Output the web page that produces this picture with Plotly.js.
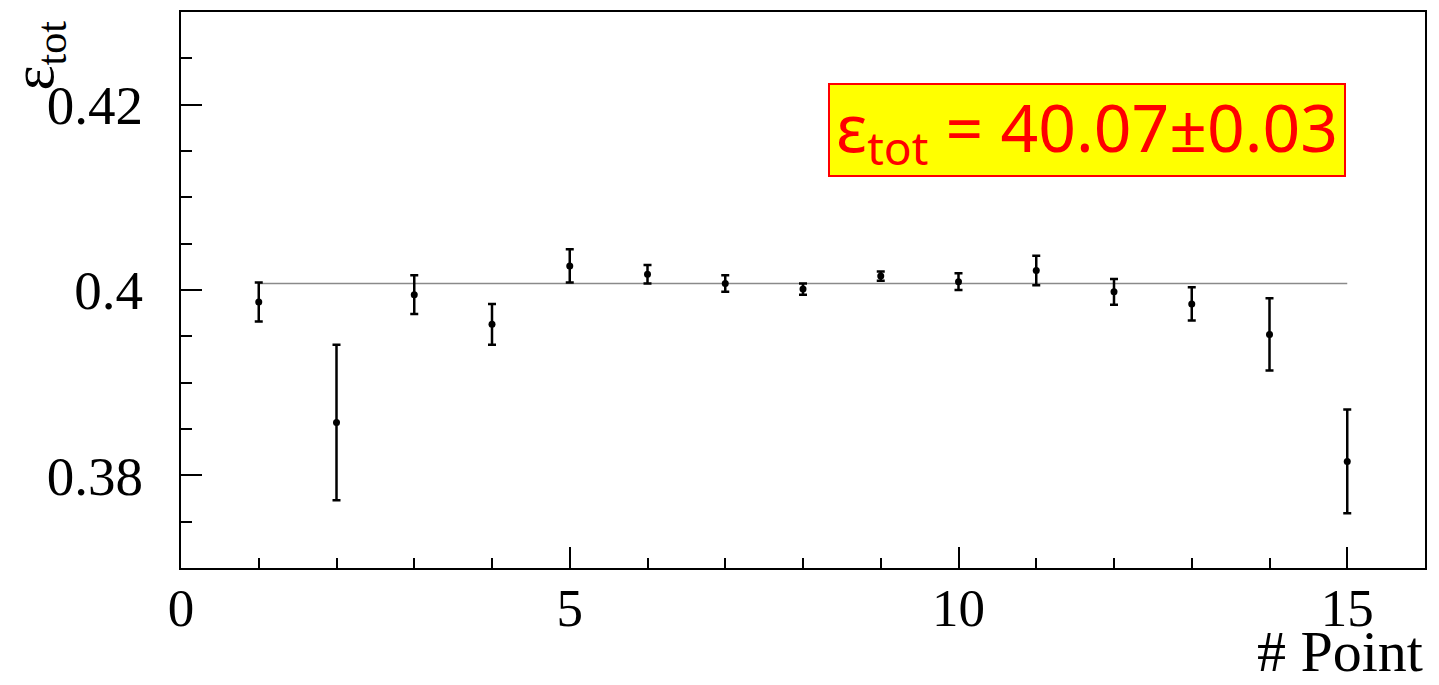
<!DOCTYPE html>
<html>
<head>
<meta charset="utf-8">
<script src="https://cdn.plot.ly/plotly-3.0.1.min.js"></script>
<style>
  html, body { margin: 0; padding: 0; background: #ffffff; }
  #chart { width: 1439px; height: 685px; }
</style>
</head>
<body>
<div id="chart"></div>
<script>
// Total efficiency per measurement point, with statistical errors
const points = [1, 2, 3, 4, 5, 6, 7, 8, 9, 10, 11, 12, 13, 14, 15];
const effTot = [0.3987, 0.3857, 0.3995, 0.3963, 0.4026, 0.4017, 0.4007, 0.4001,
                0.4015, 0.4009, 0.4021, 0.3998, 0.3985, 0.3952, 0.3815];
const effErr = [0.0021, 0.0084, 0.0021, 0.0022, 0.0018, 0.0010, 0.0009, 0.0006,
                0.0005, 0.0009, 0.0016, 0.0014, 0.0018, 0.0039, 0.0056];

// Constant fit over all points: 40.07 ± 0.03 %
const fitValue = 40.07;
const fitError = 0.03;
const fitRange = [points[0], points[points.length - 1]];

const serif = 'Liberation Serif, Times New Roman, serif';

const traces = [
  {
    x: fitRange,
    y: fitRange.map(() => fitValue / 100),
    mode: 'lines',
    line: { color: '#8a8a8a', width: 1.5 },
    hoverinfo: 'skip',
    showlegend: false
  },
  {
    x: points,
    y: effTot,
    mode: 'markers',
    marker: { color: '#000000', size: 7 },
    error_y: { type: 'data', array: effErr, visible: true, color: '#000000', thickness: 2.5, width: 4 },
    showlegend: false
  }
];

const axisCommon = {
  showgrid: false,
  zeroline: false,
  showline: true,
  linecolor: '#000000',
  linewidth: 2,
  mirror: true,
  ticks: 'inside',
  ticklen: 21,
  tickwidth: 2,
  tickcolor: '#000000'
};

const layout = {
  width: 1439,
  height: 685,
  margin: { l: 181, r: 14, t: 12, b: 117 },
  paper_bgcolor: '#ffffff',
  plot_bgcolor: '#ffffff',
  xaxis: Object.assign({}, axisCommon, {
    range: [0, 16],
    tickvals: [0, 5, 10, 15],
    ticktext: ['0', '5', '10', '15'],
    ticklabelstandoff: -8,
    tickfont: { family: serif, size: 53, color: '#000000' },
    minor: { dtick: 1, tick0: 0, ticks: 'inside', ticklen: 10, tickwidth: 2, tickcolor: '#000000' }
  }),
  yaxis: Object.assign({}, axisCommon, {
    range: [0.37, 0.43],
    tickvals: [0.38, 0.40, 0.42],
    ticktext: ['0.38', '0.4', '0.42'],
    ticklabelstandoff: 25,
    tickfont: { family: serif, size: 55, color: '#000000' },
    minor: { dtick: 0.005, tick0: 0.37, ticks: 'inside', ticklen: 11, tickwidth: 2, tickcolor: '#000000' }
  }),
  annotations: [
    {
      text: 'ε<sub>tot</sub>',
      textangle: -90,
      xref: 'paper', yref: 'paper',
      x: -0.115, y: 0.988,
      xanchor: 'center', yanchor: 'top',
      showarrow: false,
      font: { family: serif, size: 60, color: '#000000' }
    },
    {
      text: '# Point',
      xref: 'paper', yref: 'paper',
      x: 1.0, y: -0.088,
      xanchor: 'right', yanchor: 'top',
      showarrow: false,
      font: { family: serif, size: 58, color: '#000000' }
    },
    {
      text: 'ε<sub>tot</sub> = ' + fitValue.toFixed(2) + '±' + fitError.toFixed(2),
      xref: 'paper', yref: 'paper',
      x: 0.7283, y: 0.7869,
      xanchor: 'center', yanchor: 'middle',
      width: 514, height: 90,
      align: 'center', valign: 'middle',
      showarrow: false,
      bgcolor: '#ffff00',
      bordercolor: '#ff0000',
      borderwidth: 2,
      borderpad: 0,
      font: { family: 'Noto Sans, DejaVu Sans, sans-serif', size: 66, color: '#ff0000' }
    }
  ]
};

Plotly.newPlot('chart', traces, layout, { displayModeBar: false, staticPlot: true });
</script>
</body>
</html>
